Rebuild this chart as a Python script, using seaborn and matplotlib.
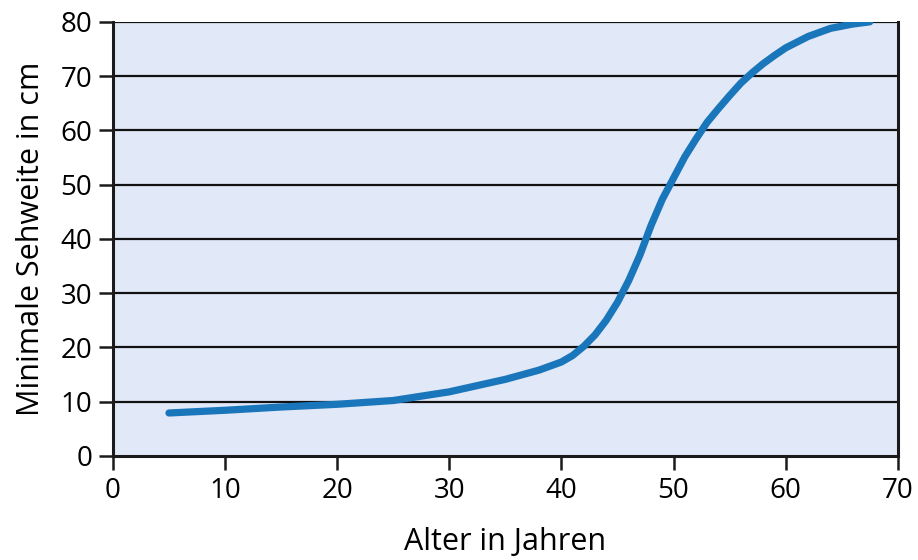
import matplotlib
matplotlib.use("Agg")
import matplotlib.pyplot as plt
import seaborn as sns
import pandas as pd

# values
alter = [5, 10, 15, 20, 25, 30, 35, 38, 40, 41, 42, 43, 44, 45, 46, 47, 48, 49,
         50, 51, 52, 53, 54, 55, 56, 57, 58, 59, 60, 62, 64, 66, 67.5]
sehweite = [7.9, 8.4, 9.0, 9.5, 10.2, 11.8, 14.1, 15.8, 17.3, 18.5, 20.2, 22.3,
            25.0, 28.3, 32.3, 37.0, 42.5, 47.3, 51.2, 55.1, 58.4, 61.5, 64.0,
            66.4, 68.7, 70.6, 72.3, 73.8, 75.2, 77.3, 78.8, 79.6, 80.0]
x_ticks = [0, 10, 20, 30, 40, 50, 60, 70]
y_ticks = [0, 10, 20, 30, 40, 50, 60, 70, 80]

df = pd.DataFrame({"Alter": alter, "Sehweite": sehweite})

sns.set_style("ticks", {"axes.facecolor": "#e1e8f8", "axes.edgecolor": "#1a1a1a",
                        "text.color": "black", "xtick.color": "#1a1a1a",
                        "ytick.color": "#1a1a1a", "axes.labelcolor": "black"})
plt.rcParams['font.family'] = ['Open Sans', 'DejaVu Sans']

fig = plt.figure(figsize=(9.18, 5.6), dpi=100)
ax = fig.add_axes([0.123, 0.186, 0.855, 0.775])

for yv in y_ticks[1:]:
    ax.axhline(yv, color="#111111", linewidth=1.6, zorder=1)

sns.lineplot(data=df, x="Alter", y="Sehweite", ax=ax, color="#1a76bb",
             linewidth=5.2, solid_capstyle="round", solid_joinstyle="round",
             zorder=3)

ax.set_xlim(0, 70)
ax.set_ylim(0, 80)
ax.set_xticks(x_ticks)
ax.set_yticks(y_ticks)
ax.tick_params(axis="both", labelsize=20, length=10, width=1.8, pad=5,
               labelcolor="black")
for side in ["left", "bottom", "right"]:
    ax.spines[side].set_linewidth(2.2)
ax.spines["top"].set_visible(False)

ax.set_xlabel("Alter in Jahren", fontsize=22, labelpad=16)
ax.set_ylabel("Minimale Sehweite in cm", fontsize=22, labelpad=10)

fig.savefig("out.png", dpi=100)
